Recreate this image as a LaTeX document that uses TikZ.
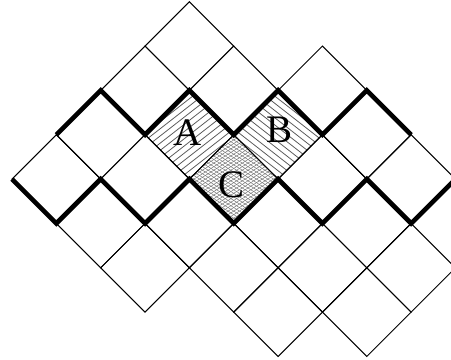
\documentclass[tikz,border=0pt]{standalone}
\usepackage{fontspec}
\setmainfont{Liberation Serif}
\tikzset{
  gridline/.style={line width=0.65pt, black},
  boldline/.style={line width=3pt, black, line join=miter, line cap=butt},
  hatchline/.style={line width=0.5pt, black!65},
  meshline/.style={line width=0.3pt, black!55},
  lab/.style={font=\fontsize{25}{29}\selectfont, inner sep=0pt}
}
\begin{document}
\begin{tikzpicture}
\useasboundingbox (-0.2706,0.038) rectangle (9.899,-8.079);
% hatching A
\begin{scope}
  \clip (4,-2) -- (5,-3) -- (4,-4) -- (3,-3) -- cycle;
  \foreach \k in {-13,...,13}
    \draw[hatchline, shift={(4,-3)}, rotate=38] (-1.6,\k*0.128) -- (1.6,\k*0.128);
\end{scope}
% hatching B
\begin{scope}
  \clip (6,-2) -- (7,-3) -- (6,-4) -- (5,-3) -- cycle;
  \foreach \k in {-13,...,13}
    \draw[hatchline, shift={(6,-3)}, rotate=-38] (-1.6,\k*0.128) -- (1.6,\k*0.128);
\end{scope}
% crosshatch C
\begin{scope}
  \clip (5,-3) -- (6,-4) -- (5,-5) -- (4,-4) -- cycle;
  \foreach \k in {-22,...,22}{
    \draw[meshline, shift={(5,-4)}, rotate=32] (-1.6,\k*0.068) -- (1.6,\k*0.068);
    \draw[meshline, shift={(5,-4)}, rotate=-32] (-1.6,\k*0.068) -- (1.6,\k*0.068);
  }
\end{scope}
% grid of diamonds
\foreach \i/\j in {4/1, 3/2,5/2,7/2, 2/3,4/3,6/3,8/3, 1/4,3/4,5/4,7/4,9/4,
                   2/5,4/5,6/5,8/5, 3/6,5/6,7/6,9/6, 6/7,8/7}
  \draw[gridline] (\i,-\j+1) -- (\i+1,-\j) -- (\i,-\j-1) -- (\i-1,-\j) -- cycle;
% bold zigzags
\draw[boldline] (1,-3) -- (2,-2) -- (3,-3) -- (4,-2) -- (5,-3) -- (6,-2) -- (7,-3) -- (8,-2) -- (9,-3);
\draw[boldline] (0,-4) -- (1,-5) -- (2,-4) -- (3,-5) -- (4,-4) -- (5,-5) -- (6,-4) -- (7,-5) -- (8,-4) -- (9,-5) -- (10,-4);
% labels
\node[lab] (A) at (3.95,-2.96) {A};
\node[lab] (B) at (6.04,-2.90) {B};
\node[lab] (C) at (4.94,-4.12) {C};
\end{tikzpicture}
\end{document}
